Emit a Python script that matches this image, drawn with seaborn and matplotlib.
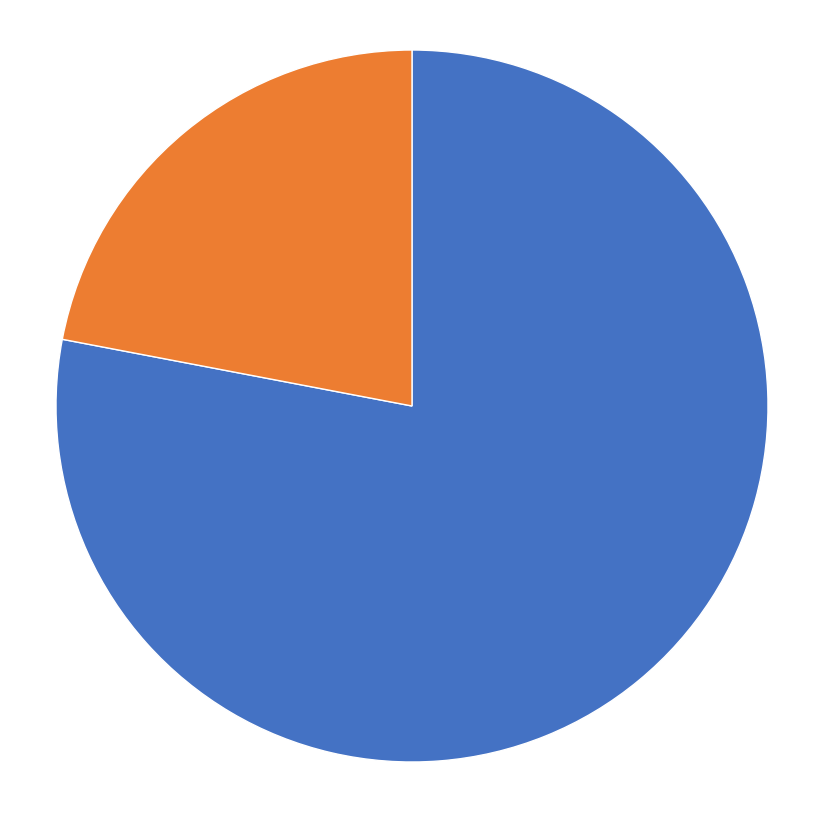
import seaborn as sns
from matplotlib import pyplot as plt

# slice data
labels = ["Series A", "Series B"]
shares = [78, 22]
colors = ["#4472C4", "#ED7D31"]

sns.set_theme(style="white")

W, H = 825, 813
cx, cy, r = 412, 406, 356

fig = plt.figure(figsize=(W / 100, H / 100), dpi=100)
ax = fig.add_axes([(cx - r) / W, (H - cy - r) / H, 2 * r / W, 2 * r / H])
ax.pie(
    shares,
    colors=colors,
    startangle=90,
    counterclock=False,
    radius=1,
    wedgeprops=dict(edgecolor="white", linewidth=1),
)
ax.set_xlim(-1, 1)
ax.set_ylim(-1, 1)
ax.set_aspect("auto")
ax.axis("off")

fig.savefig("out.png", dpi=100, facecolor="white")
